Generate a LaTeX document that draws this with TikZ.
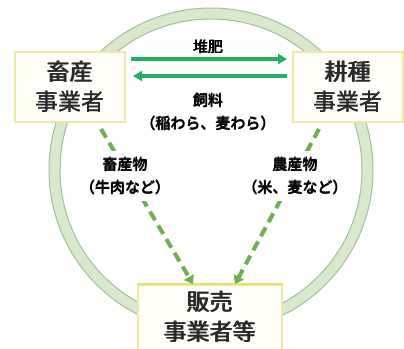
\documentclass[tikz,border=0pt]{standalone}
\usepackage{fontspec}
\setmainfont{Noto Sans CJK JP}
\usepackage{xcolor}
\definecolor{cRing}{HTML}{D9E9CC}
\definecolor{cRingLine}{HTML}{A3BF98}
\definecolor{cBoxLine}{HTML}{EEEAA6}
\definecolor{cBoxTop}{HTML}{E6E36A}
\definecolor{cBoxFill}{HTML}{FFFFF7}
\definecolor{cFlow}{HTML}{22B062}
\definecolor{cSale}{HTML}{6DB04E}
\definecolor{cText}{HTML}{2A2A2A}
\usepackage{tikz}
\usetikzlibrary{positioning,arrows.meta,calc}
% 太字の代わりに重ね刷り
\newcommand{\hvy}[1]{\makebox[0pt][l]{#1}\makebox[0pt][l]{\kern0.4pt\raisebox{0.4pt}{#1}}\kern0.8pt#1}
\tikzset{
  node-actor/.style={draw=cBoxLine,line width=2pt,fill=cBoxFill,
    minimum width=110pt,minimum height=70pt,align=center,
    text=cText,font=\fontsize{23}{30}\selectfont},
  node-label/.style={fill=white,align=center,inner sep=3pt,
    font=\fontsize{15}{23}\selectfont},
  arrow-flow/.style={-{Triangle[length=9pt,width=10pt]},line width=3.5pt,draw=cFlow},
  arrow-sale/.style={-{Triangle[length=8pt,width=11pt]},line width=4pt,
    draw=cSale,dash pattern=on 10pt off 6pt},
}

\begin{document}
\begin{tikzpicture}[x=1pt,y=-1pt]
  \useasboundingbox (0,0) rectangle (404,348);
  % 外側の循環リング
  \fill[cRing,even odd rule] (211,170) circle[radius=162] (211,170) circle[radius=151];
  \draw[cRingLine,line width=1pt] (211,170) circle[radius=162];
  \draw[cRingLine,line width=1pt] (211,170) circle[radius=151];
  % 事業者
  \node[node-actor] (livestock) at (70,87)  {\hvy{畜産}\\\hvy{事業者}};
  \node[node-actor] (crop)      at (348,87) {\hvy{耕種}\\\hvy{事業者}};
  \node[node-actor,minimum width=144pt,minimum height=72pt,text depth=10pt] (seller) at (210,321) {\hvy{販売}\\\hvy{事業者等}};
  \draw[draw=cBoxTop,line width=2pt] (seller.north west) -- (seller.north east);
  % 堆肥・飼料のやりとり
  \draw[arrow-flow] ($(livestock.north east)+(5,8)$)  -- ($(crop.north west)+(-5,8)$);
  \draw[arrow-flow] ($(crop.north west)+(-5,25)$) -- ($(livestock.north east)+(7,25)$);
  % 販売への出荷
  \draw[arrow-sale] ($(livestock.south east)+(-25,6)$) -- ($(seller.north)+(-17,0)$);
  \draw[arrow-sale] ($(crop.south west)+(27,6)$) -- ($(seller.north)+(25,0)$);
  % ラベル
  \node[node-label,fill=none] (compost) at (208,47) {\hvy{堆肥}};
  \node[node-label] (feed) at (208,112) {\hvy{飼料}\\\hvy{（稲わら、麦わら）}};
  \node[node-label,inner ysep=6pt] (meat) at (125,176) {\hvy{畜産物}\\\hvy{（牛肉など）}};
  \node[node-label,inner ysep=6pt] (grain) at (295,176) {\hvy{農産物}\\\hvy{（米、麦など）}};
\end{tikzpicture}
\end{document}
